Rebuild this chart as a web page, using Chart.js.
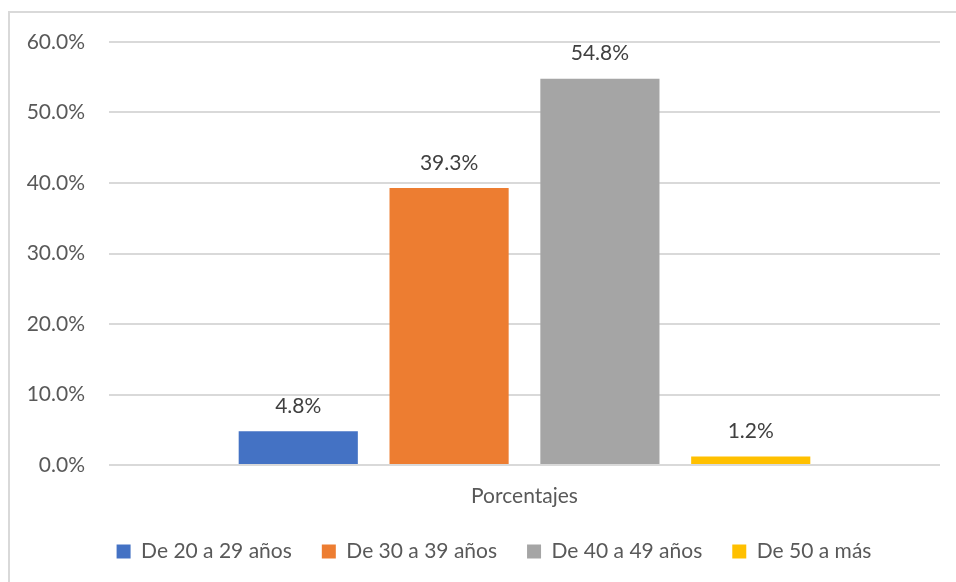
<!DOCTYPE html>
<html>
<head>
<meta charset="utf-8">
<script src="https://cdn.jsdelivr.net/npm/chart.js@4.4.0/dist/chart.umd.min.js"></script>
<style>
  html, body { margin: 0; padding: 0; background: #fff; }
  #frame {
    position: absolute; left: 8px; top: 11px;
    width: 1000px; height: 640px;
    border: 2px solid #d9d9d9;
  }
  #wrap { position: absolute; left: 0; top: 0; width: 956px; height: 582px; }
</style>
</head>
<body>
<div id="frame"></div>
<div id="wrap"><canvas id="barChart"></canvas></div>
<script>
const categories = ['Porcentajes'];
const groups = ['De 20 a 29 años', 'De 30 a 39 años', 'De 40 a 49 años', 'De 50 a más'];
const percentages = [4.8, 39.3, 54.8, 1.2];
const colors = ['#4472C4', '#ED7D31', '#A5A5A5', '#FFC000'];
const yTicks = [0, 10, 20, 30, 40, 50, 60];

const FONT = 'Lato, "Open Sans", sans-serif';
const FONT_SIZE = 21;

// prints the percentage above each bar
const barLabels = {
    id: 'barLabels',
    afterDatasetsDraw(chart) {
        const ctx = chart.ctx;
        ctx.save();
        ctx.font = FONT_SIZE + 'px ' + FONT;
        ctx.fillStyle = '#404040';
        ctx.textAlign = 'center';
        ctx.textBaseline = 'middle';
        chart.data.datasets.forEach((ds, i) => {
            chart.getDatasetMeta(i).data.forEach((bar, j) => {
                ctx.fillText(ds.data[j].toFixed(1) + '%', bar.x, bar.y - 25);
            });
        });
        ctx.restore();
    }
};

// nudge the legend row a bit to the right
const legendShift = {
    id: 'legendShift',
    afterLayout(chart) {
        chart.legend.left += 24;
        chart.legend.right += 24;
    }
};

const ctx = document.getElementById('barChart');

new Chart(ctx, {
    type: 'bar',
    data: {
        labels: categories,
        datasets: groups.map((g, i) => ({
            label: g,
            data: [percentages[i]],
            backgroundColor: colors[i],
            categoryPercentage: 0.726,
            barPercentage: 0.79
        }))
    },
    options: {
        responsive: true,
        maintainAspectRatio: false,
        animation: false,
        layout: {
            padding: { top: 42, right: 16, bottom: 10, left: 0 }
        },
        scales: {
            x: {
                afterFit(scale) { scale.height = 46; },
                grid: { display: false, drawTicks: false },
                border: { display: false },
                ticks: {
                    color: '#595959',
                    font: { family: FONT, size: FONT_SIZE },
                    padding: 19
                }
            },
            y: {
                min: 0,
                max: 60,
                afterFit(scale) { scale.width = 109; },
                afterBuildTicks(scale) { scale.ticks = yTicks.map(v => ({ value: v })); },
                grid: { color: '#d9d9d9', lineWidth: 2, drawTicks: false },
                border: { display: false },
                ticks: {
                    color: '#595959',
                    font: { family: FONT, size: FONT_SIZE },
                    padding: 24,
                    callback: v => v.toFixed(1) + '%'
                }
            }
        },
        plugins: {
            legend: {
                position: 'bottom',
                labels: {
                    color: '#595959',
                    font: { family: FONT, size: FONT_SIZE },
                    boxWidth: 14,
                    boxHeight: 14,
                    padding: 30
                }
            },
            tooltip: { enabled: false }
        }
    },
    plugins: [barLabels, legendShift]
});
</script>
</body>
</html>
